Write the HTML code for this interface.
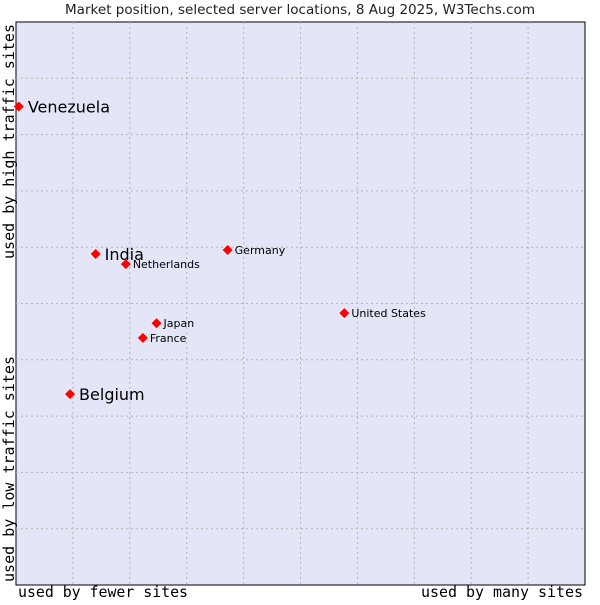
<!DOCTYPE html>
<html><head><meta charset="utf-8"><style>
body{margin:0;background:#fff;width:600px;height:600px;overflow:hidden}
svg text{font-family:"DejaVu Sans","Liberation Sans",sans-serif}
.mono{font-family:"DejaVu Sans Mono","Liberation Mono",monospace}
</style></head><body>
<svg id="chart" width="600" height="600" xmlns="http://www.w3.org/2000/svg">
<text x="300" y="14" text-anchor="middle" font-size="13" textLength="470" lengthAdjust="spacingAndGlyphs" fill="#222">Market position, selected server locations, 8 Aug 2025, W3Techs.com</text>
<rect x="16" y="22" width="569" height="563" fill="#e4e6f8" stroke="#000" stroke-width="1"/>
<g id="grid"></g>
<g id="points"></g>
<text class="mono" x="18" y="597" font-size="15" textLength="170" lengthAdjust="spacingAndGlyphs" fill="#000">used by fewer sites</text>
<text class="mono" x="421" y="597" font-size="15" textLength="162" lengthAdjust="spacingAndGlyphs" fill="#000">used by many sites</text>
<text class="mono" transform="translate(14,259) rotate(-90)" font-size="15" textLength="235" lengthAdjust="spacingAndGlyphs" fill="#000">used by high traffic sites</text>
<text class="mono" transform="translate(14,582) rotate(-90)" font-size="15" textLength="226" lengthAdjust="spacingAndGlyphs" fill="#000">used by low traffic sites</text>
</svg>
<script>
const names=["Venezuela","India","Netherlands","Germany","United States","Japan","France","Belgium"];
const xVals=[0.05,1.4,1.93,3.72,5.77,2.47,2.23,0.95];
const yVals=[8.5,5.88,5.70,5.95,4.83,4.65,4.39,3.39];
const big=[true,true,false,false,false,false,false,true];
const L=16,R=585,T=22,B=585;
const sx=v=>L+v/10*(R-L), sy=v=>B-v/10*(B-T);
const ns="http://www.w3.org/2000/svg";
const g=document.getElementById('grid');
for(let i=1;i<10;i++){
 let v=document.createElementNS(ns,'line');
 
 
 v.setAttribute('x1',sx(i));v.setAttribute('x2',sx(i));v.setAttribute('y1',T);v.setAttribute('y2',B);
 v.setAttribute('stroke','#b4b4b4');v.setAttribute('stroke-dasharray','2,3');g.appendChild(v);
 let h=document.createElementNS(ns,'line');
 
 
 h.setAttribute('x1',L);h.setAttribute('x2',R);h.setAttribute('y1',sy(i));h.setAttribute('y2',sy(i));
 h.setAttribute('stroke','#b4b4b4');h.setAttribute('stroke-dasharray','2,3');g.appendChild(h);
}
const p=document.getElementById('points');
names.forEach((n,i)=>{
 const x=sx(xVals[i]),y=sy(yVals[i]);
 const d=document.createElementNS(ns,'polygon');
 
 
 d.setAttribute('points',`${x},${y-5} ${x+5},${y} ${x},${y+5} ${x-5},${y}`);
 d.setAttribute('fill','#f00');p.appendChild(d);
 const t=document.createElementNS(ns,'text');
 
 
 t.setAttribute('x',x+(big[i]?9:7));t.setAttribute('y',y+(big[i]?6:4));
 t.setAttribute('font-size',big[i]?16:11);t.setAttribute('fill','#000');
 t.textContent=n;p.appendChild(t);
});
</script>
</body></html>
